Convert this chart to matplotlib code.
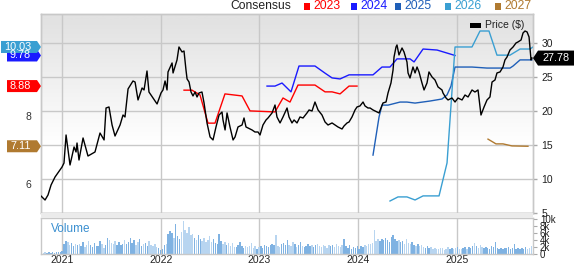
import matplotlib
matplotlib.use('Agg')
import matplotlib.pyplot as plt
import numpy as np
from matplotlib.patches import Polygon, Rectangle

plt.rcParams['font.family'] = ['Liberation Sans', 'DejaVu Sans']

# ---------------- data ----------------
price_t = [2020.787, 2020.828, 2020.858, 2020.889, 2020.929, 2021.000, 2021.020, 2021.041, 2021.081, 2021.122,
           2021.142, 2021.152, 2021.172, 2021.213, 2021.263, 2021.334, 2021.385, 2021.426, 2021.446, 2021.476,
           2021.507, 2021.537, 2021.588, 2021.618, 2021.638, 2021.669, 2021.719, 2021.740, 2021.770, 2021.811,
           2021.831, 2021.861, 2021.881, 2021.922, 2021.963, 2022.003, 2022.023, 2022.044, 2022.064, 2022.074,
           2022.115, 2022.125, 2022.165, 2022.185, 2022.216, 2022.236, 2022.256, 2022.267, 2022.287, 2022.307,
           2022.327, 2022.348, 2022.368, 2022.388, 2022.418, 2022.439, 2022.469, 2022.500, 2022.530, 2022.560,
           2022.591, 2022.621, 2022.631, 2022.652, 2022.672, 2022.702, 2022.733, 2022.753, 2022.783, 2022.824,
           2022.844, 2022.864, 2022.884, 2022.925, 2022.955, 2022.986, 2023.006, 2023.036, 2023.067, 2023.087,
           2023.128, 2023.158, 2023.178, 2023.209, 2023.239, 2023.280, 2023.300, 2023.330, 2023.351, 2023.381,
           2023.411, 2023.442, 2023.482, 2023.503, 2023.533, 2023.563, 2023.594, 2023.634, 2023.665, 2023.695,
           2023.736, 2023.766, 2023.796, 2023.837, 2023.857, 2023.888, 2023.908, 2023.938, 2023.969, 2023.989,
           2024.019, 2024.050, 2024.070, 2024.100, 2024.121, 2024.151, 2024.192, 2024.212, 2024.252, 2024.283,
           2024.303, 2024.333, 2024.354, 2024.364, 2024.384, 2024.394, 2024.414, 2024.445, 2024.465, 2024.495,
           2024.506, 2024.526, 2024.556, 2024.577, 2024.597, 2024.617, 2024.647, 2024.668, 2024.698, 2024.718,
           2024.749, 2024.779, 2024.810, 2024.850, 2024.860, 2024.891, 2024.911, 2024.951, 2024.982, 2025.012,
           2025.053, 2025.083, 2025.114, 2025.154, 2025.184, 2025.215, 2025.245, 2025.276, 2025.306, 2025.336,
           2025.357, 2025.387, 2025.407, 2025.438, 2025.468, 2025.488, 2025.509, 2025.539, 2025.570, 2025.600,
           2025.620, 2025.651, 2025.671, 2025.691, 2025.712, 2025.732, 2025.752, 2025.762]
price = [7.50, 6.91, 7.65, 9.12, 10.29, 11.76, 12.35, 16.47, 12.06, 14.71,
         13.97, 15.29, 12.79, 16.03, 13.38, 13.97, 16.76, 15.74, 20.44, 20.59,
         17.94, 16.32, 17.94, 19.41, 19.12, 23.24, 24.41, 24.26, 21.62, 23.38,
         23.09, 25.88, 22.79, 21.91, 21.03, 22.65, 23.09, 24.41, 23.09, 25.74,
         27.06, 25.59, 27.50, 29.41, 28.68, 28.82, 26.03, 24.71, 24.26, 22.79,
         22.21, 22.79, 22.06, 22.65, 22.79, 21.18, 18.24, 16.18, 15.74, 17.65,
         19.41, 19.85, 18.68, 17.21, 19.71, 17.65, 15.74, 16.18, 17.65, 17.94,
         18.97, 17.65, 17.50, 17.21, 16.91, 16.91, 16.47, 17.94, 18.68, 18.97,
         19.71, 20.88, 19.12, 18.24, 19.12, 20.44, 19.12, 18.24, 18.68, 18.24,
         19.12, 18.97, 19.71, 20.15, 20.00, 21.32, 20.15, 19.41, 18.38, 17.94,
         18.24, 17.94, 17.65, 17.35, 17.79, 18.24, 18.38, 19.12, 20.15, 20.59,
         20.74, 21.32, 20.74, 20.44, 20.44, 20.15, 19.85, 19.71, 21.18, 21.32,
         22.65, 24.12, 26.03, 27.94, 29.41, 29.71, 28.24, 29.26, 28.68, 27.21,
         25.59, 24.85, 26.47, 25.59, 26.47, 25.74, 24.12, 23.09, 24.12, 25.74,
         25.00, 24.56, 23.53, 23.09, 22.65, 21.91, 21.62, 21.91, 21.32, 21.91,
         21.62, 22.35, 22.06, 23.09, 22.79, 23.09, 19.41, 20.59, 21.62, 22.06,
         24.26, 24.56, 25.59, 25.74, 26.47, 27.50, 27.94, 28.97, 29.41, 30.00,
         30.15, 30.44, 31.47, 31.76, 31.62, 30.88, 27.50, 27.78]

c2023_t = [2022.236, 2022.317, 2022.398, 2022.479, 2022.550, 2022.651, 2022.824, 2022.905, 2023.158,
           2023.239, 2023.310, 2023.391, 2023.563, 2023.665, 2023.736, 2023.817, 2023.908, 2023.989]
c2023 = [8.76, 8.76, 8.62, 7.79, 7.79, 8.65, 8.59, 8.15, 8.12, 8.53, 8.41, 8.91, 8.91, 8.71, 8.71, 8.65, 8.88, 8.88]

c2024_t = [2023.077, 2023.158, 2023.229, 2023.320, 2023.401, 2023.563, 2023.665, 2023.736, 2023.817, 2023.908,
           2024.151, 2024.242, 2024.323, 2024.394, 2024.526, 2024.567, 2024.658, 2024.800, 2024.982]
c2024 = [8.88, 8.88, 8.97, 8.71, 9.47, 9.47, 9.26, 9.12, 9.09, 9.21, 9.21, 9.44, 9.44, 9.68, 9.68, 9.59, 9.97, 9.94, 9.78]

c2025_t = [2024.151, 2024.212, 2024.242, 2024.303, 2024.425, 2024.495, 2024.577, 2024.728, 2024.850,
           2024.901, 2024.941, 2024.982, 2025.154, 2025.306, 2025.539, 2025.570, 2025.641, 2025.762]
c2025 = [6.85, 7.97, 8.32, 8.32, 8.41, 8.41, 8.38, 8.44, 8.50, 8.62, 8.88, 9.44, 9.44, 9.41, 9.41, 9.47, 9.65, 9.65]

c2026_t = [2024.323, 2024.404, 2024.495, 2024.577, 2024.658, 2024.820, 2024.901, 2024.931, 2024.982,
           2025.154, 2025.235, 2025.326, 2025.407, 2025.539, 2025.641, 2025.742, 2025.772]
c2026 = [5.50, 5.62, 5.62, 5.53, 5.65, 5.65, 6.62, 7.88, 10.03, 10.03, 10.50, 10.50, 9.79, 9.79, 9.97, 9.97, 10.03]

c2027_t = [2025.316, 2025.397, 2025.468, 2025.559, 2025.721]
c2027 = [7.32, 7.18, 7.18, 7.12, 7.11]

# weekly volume (thousands)
volume = [0.4, 0.3, 0.5, 0.3, 0.6, 0.4, 0.5, 0.3, 0.7, 0.5, 0.6, 0.8, 2.8, 3.6, 3.4, 2.5, 3.2, 2.2, 2.9, 2.6,
          3.0, 2.4, 3.3, 2.1, 2.6, 3.8, 2.7, 2.0, 3.1, 2.4, 2.2, 3.6, 2.8, 1.8, 2.5, 4.6, 4.1, 3.2, 2.9, 3.8,
          2.7, 3.3, 2.6, 3.0, 4.0, 2.8, 3.5, 4.7, 3.1, 3.9, 2.6, 3.3, 4.2, 2.4, 2.9, 3.1, 2.2, 3.6, 2.7, 2.3,
          2.9, 2.1, 1.6, 1.2, 1.4, 2.7, 3.0, 5.6, 6.6, 5.9, 4.5, 8.7, 5.2, 4.3, 6.4, 9.4, 6.8, 6.1, 7.6, 5.3,
          5.8, 4.6, 3.9, 5.4, 4.2, 3.7, 4.6, 3.5, 3.9, 5.1, 3.3, 4.4, 3.2, 3.0, 5.6, 3.6, 2.8, 3.4, 2.7, 3.1,
          2.4, 3.2, 2.1, 1.9, 2.6, 3.5, 2.2, 1.6, 2.3, 1.9, 2.4, 3.2, 1.7, 2.2, 1.5, 2.0, 2.3, 1.8, 2.6, 2.2,
          2.0, 2.5, 3.0, 2.6, 5.3, 2.4, 2.1, 2.8, 3.2, 2.7, 4.0, 2.5, 2.2, 3.4, 2.9, 2.1, 2.6, 3.3, 2.4, 2.0,
          2.3, 2.8, 2.2, 2.7, 1.9, 2.5, 2.9, 2.4, 2.0, 2.6, 2.2, 1.8, 2.7, 2.3, 2.5, 2.1, 2.8, 2.4, 1.9, 2.6,
          4.3, 2.2, 1.8, 2.5, 1.4, 1.9, 1.6, 2.2, 1.5, 2.4, 2.0, 2.7, 2.3, 2.9, 3.0, 3.2, 6.9, 3.8, 4.4, 3.6,
          4.2, 3.9, 4.6, 4.0, 3.5, 4.8, 5.4, 4.3, 3.7, 4.1, 3.4, 3.8, 2.9, 4.2, 3.1, 2.8, 3.3, 2.6, 2.4, 2.9,
          2.2, 2.7, 2.0, 1.8, 2.3, 1.6, 1.9, 1.4, 1.7, 1.5, 1.3, 1.8, 1.6, 1.2, 1.5, 1.9, 1.4, 1.7, 1.3, 1.6,
          2.0, 1.5, 1.3, 1.7, 1.9, 1.4, 2.1, 1.8, 2.4, 3.2, 2.2, 1.7, 2.6, 1.9, 1.6, 2.0, 1.8, 1.5, 2.2, 1.9,
          3.5, 1.6, 1.4, 1.8, 1.5, 1.7, 1.6, 1.9, 1.4, 1.8, 2.9, 1.5, 1.7, 1.3, 1.6, 1.4, 1.9, 1.5, 1.8, 2.3]

years = [2021, 2022, 2023, 2024, 2025]
price_ticks = [5, 10, 15, 20, 25, 30]
eps_ticks = [6, 8]
vol_ticks = [0, 2, 4, 6, 8, 10]
vol_labels = ['0', '2k', '4k', '6k', '8k', '10k']

series = [('2023', c2023_t, c2023, '#ff0000'),
          ('2024', c2024_t, c2024, '#1a1aff'),
          ('2025', c2025_t, c2025, '#1f5fb8'),
          ('2026', c2026_t, c2026, '#3a9fd2'),
          ('2027', c2027_t, c2027, '#b07a30')]
label_series = [('2027', c2027, '#b07a30'), ('2023', c2023, '#ff0000'),
                ('2024', c2024, '#1a1aff'), ('2026', c2026, '#3a9fd2')]

# ---------------- layout ----------------
W, H = 574, 264
fig = plt.figure(figsize=(W / 100, H / 100), dpi=100)


def fx(px):
    return px / W


def fy(py):
    return 1 - py / H


XMIN, XMAX = 2020.787, 2025.772
GRID = '#c8c8c8'

ax = fig.add_axes([fx(41), fy(213), fx(533) - fx(41), fy(14) - fy(213)])
axp = ax.twinx()
axv = fig.add_axes([fx(41), fy(254), fx(533) - fx(41), fy(218) - fy(254)])

for a in (ax, axp, axv):
    a.set_xlim(XMIN, XMAX)
    for s in a.spines.values():
        s.set_color(GRID)
        s.set_linewidth(1)

ax.set_ylim(5.147, 11.0)
axp.set_ylim(5, 34.26)

# gradient background
grad = np.linspace(0, 1, 256).reshape(-1, 1)
grad = np.clip(grad * 1.6 - 0.55, 0, 1)
from matplotlib.colors import LinearSegmentedColormap
cmap = LinearSegmentedColormap.from_list('g', ['#ffffff', '#e2e2e2'])
ax.imshow(grad, extent=[0, 1, 0, 1], transform=ax.transAxes, aspect='auto',
          cmap=cmap, origin='lower', zorder=0, interpolation='bilinear')
ax.set_xlim(XMIN, XMAX)
ax.set_ylim(5.147, 11.0)

# grid lines (price scale) drawn under everything
for p in price_ticks:
    ax.plot([XMIN, XMAX], [p, p], color=GRID, lw=1, transform=axp.transData, zorder=1)
for yv in years:
    ax.axvline(yv, color=GRID, lw=1, zorder=1)
    axv.axvline(yv, color=GRID, lw=1, zorder=0)

# consensus lines
for name, t, v, c in series:
    ax.plot(t, v, color=c, lw=1, zorder=3)

# price
axp.plot(price_t, price, color='black', lw=1, zorder=4)

# axis ticks
ax.set_xticks([])
ax.set_yticks(eps_ticks)
ax.set_yticklabels([str(v) for v in eps_ticks])
ax.tick_params(axis='y', length=0, pad=7, labelsize=7.5, colors='#333333')
axp.set_yticks(price_ticks)
axp.tick_params(axis='y', length=3, width=1, color='#aaaaaa', pad=3, labelsize=7.5, labelcolor='#222222')

# volume
vol_t = XMIN + 0.004 + np.arange(len(volume)) / 52.18
pi = np.interp(vol_t, price_t, price)
up = np.concatenate([[True], np.diff(pi) >= 0])
colors = np.where(up, '#7fb2e2', '#b8d5f0')
axv.bar(vol_t, volume, width=0.75 / 52.18, color=colors, zorder=2, linewidth=0)
axv.set_ylim(0, 10.3)
axv.yaxis.tick_right()
axv.set_yticks(vol_ticks)
axv.set_yticklabels(vol_labels)
axv.tick_params(axis='y', length=3, color='#aaaaaa', pad=2, labelsize=7, labelcolor='#222222')
axv.set_xticks(years)
axv.set_xticklabels([str(y) for y in years])
axv.tick_params(axis='x', length=0, pad=0.5, labelsize=7.5, labelcolor='#222222')
axv.text(0.02, 0.70, 'Volume', transform=axv.transAxes, color='#3a8fd0', fontsize=8.5, va='center')

# band between panels
fig.patches.append(Rectangle((fx(41), fy(218)), fx(533) - fx(41), fy(213) - fy(218),
                             transform=fig.transFigure, facecolor='#ebebeb', edgecolor='none', zorder=0))

# top legend
fig.text(fx(230), fy(6), 'Consensus', fontsize=8.7, va='center', ha='left', color='#222222')
leg_x = [304, 351, 395, 445, 495]
for (name, t, v, c), x0 in zip(series, leg_x):
    fig.patches.append(Rectangle((fx(x0), fy(9.5)), fx(6), 7 / H, transform=fig.transFigure,
                                 facecolor=c, edgecolor='none'))
    fig.text(fx(x0 + 9), fy(6), name, fontsize=8.7, va='center', ha='left', color=c)

# price legend inside
fig.patches.append(Rectangle((fx(470), fy(27.5)), fx(11), 5 / H, transform=fig.transFigure,
                             facecolor='black', edgecolor='none', zorder=5))
fig.text(fx(485), fy(25), 'Price ($)', fontsize=7.5, va='center', ha='left', color='#222222')


# value tags
def to_fig(disp):
    return fig.transFigure.inverted().transform(disp)


def tag_left(val, color):
    yd = ax.transData.transform((XMIN, val))[1]
    txt = f'{val:.2f}'
    w = 6 * (len(txt) - 1) + 3
    x1, x0 = 37, 31 - w - 3
    tip = 41
    h = 6
    pts = [(x0, yd - h), (x1, yd - h), (tip, yd), (x1, yd + h), (x0, yd + h)]
    pts = [(px / W, py / H) for px, py in pts]
    fig.patches.append(Polygon(pts, closed=True, transform=fig.transFigure,
                               facecolor=color, edgecolor='none', zorder=6))
    fig.text(31 / W, yd / H, txt, color='white', fontsize=7.8, ha='right', va='center', zorder=7)


for name, v, c in label_series:
    tag_left(v[-1], c)

# right price tag
yd = axp.transData.transform((XMAX, price[-1]))[1]
h = 7.5
pts = [(533, yd), (538, yd - h), (W, yd - h), (W, yd + h), (538, yd + h)]
fig.patches.append(Polygon([(px / W, py / H) for px, py in pts], closed=True, transform=fig.transFigure,
                           facecolor='black', edgecolor='none', zorder=6))
fig.text(556 / W, yd / H, f'{price[-1]:.2f}', color='white', fontsize=7.8, ha='center', va='center', zorder=7)

fig.savefig('out.png', dpi=100)
